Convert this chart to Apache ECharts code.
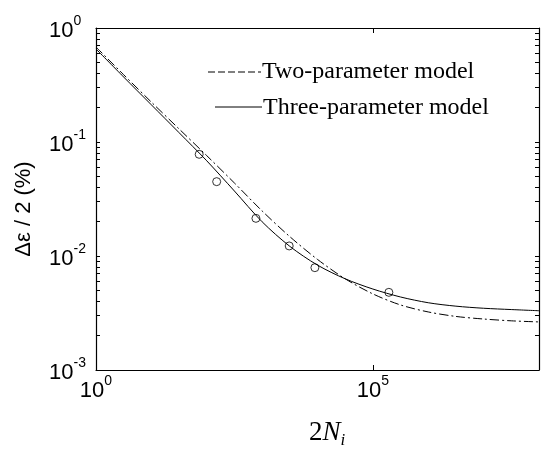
<!DOCTYPE html>
<html>
<head>
<meta charset="utf-8">
<script src="https://cdn.jsdelivr.net/npm/echarts@6/dist/echarts.min.js"></script>
<style>html,body{margin:0;padding:0;background:#fff}#c{width:543px;height:453px}</style>
</head>
<body>
<div id="c"></div>
<script>
// ---- data ----
const curveN = [1, 3.16, 10, 31.6, 100, 316, 1000, 3160, 1e4, 3.16e4, 1e5, 3.16e5, 1e6, 3.16e6, 1e7, 3.16e7, 1e8];
const twoParam = [0.681, 0.389, 0.2239, 0.1303, 0.0759, 0.0437, 0.02483, 0.01479, 0.00933, 0.00631, 0.00465, 0.00372, 0.00323, 0.00295, 0.0028, 0.0027, 0.00264];
const threeParam = [0.655, 0.3715, 0.2118, 0.1208, 0.0684, 0.03715, 0.01995, 0.01216, 0.00832, 0.00631, 0.00513, 0.00437, 0.00389, 0.00363, 0.00348, 0.00339, 0.00331];
const testN = [73, 151, 773, 3083, 8970, 194500];
const testAmp = [0.078, 0.0449, 0.0214, 0.01225, 0.0079, 0.0048];
const seriesNames = ['Two-parameter model', 'Three-parameter model'];
const xTickVals = [1, 1e5];
const yLabelVals = [1e-3, 1e-2, 1e-1, 1];
const yTickVals = [];
for (let e = -3; e < 0; e++) for (let m = 1; m <= 9; m++) yTickVals.push(m * Math.pow(10, e));
yTickVals.push(1);

const chart = echarts.init(document.getElementById('c'), null, {renderer: 'canvas'});
const supRich = {
  b: {fontSize: 22, fontFamily: 'Liberation Sans', color: '#000', lineHeight: 28, verticalAlign: 'bottom'},
  s: {fontSize: 14, fontFamily: 'Liberation Sans', color: '#000', lineHeight: 14, verticalAlign: 'top'}
};
function fmt(v) {
  const e = Math.round(Math.log10(v));
  return '{b|10}{s|' + e + '}';
}
const axisLineStyle = {color: '#000', width: 1.2};
const option = {
  animation: false,
  backgroundColor: '#fff',
  grid: {left: 96, right: 4, top: 28, bottom: 83},
  xAxis: [
    {type: 'log', logBase: 10, min: 1, max: 1e8, position: 'bottom',
     axisLine: {lineStyle: axisLineStyle},
     axisTick: {inside: true, length: 5, customValues: xTickVals, lineStyle: {color: '#000'}},
     axisLabel: {customValues: xTickVals, formatter: fmt, rich: supRich, margin: 4},
     splitLine: {show: false}, minorTick: {show: false}},
    {type: 'log', logBase: 10, min: 1, max: 1e8, position: 'top',
     axisLine: {lineStyle: axisLineStyle},
     axisTick: {inside: true, length: 5, customValues: xTickVals, lineStyle: {color: '#000'}},
     axisLabel: {show: false}, splitLine: {show: false}}
  ],
  yAxis: [
    {type: 'log', logBase: 10, min: 1e-3, max: 1, position: 'left',
     axisLine: {lineStyle: axisLineStyle},
     axisTick: {inside: true, length: 4, customValues: yTickVals, lineStyle: {color: '#000'}},
     axisLabel: {customValues: yLabelVals, formatter: fmt, rich: supRich, margin: 47, align: 'left'},
     splitLine: {show: false}},
    {type: 'log', logBase: 10, min: 1e-3, max: 1, position: 'right',
     axisLine: {lineStyle: axisLineStyle},
     axisTick: {inside: true, length: 4, customValues: yTickVals, lineStyle: {color: '#000'}},
     axisLabel: {show: false}, splitLine: {show: false}}
  ],
  series: [
    {name: seriesNames[0], type: 'line', xAxisIndex: 0, yAxisIndex: 0, smooth: 0.3, symbol: 'none',
     lineStyle: {color: '#000', width: 1, type: [9, 3, 2, 3]},
     data: curveN.map((n, i) => [n, twoParam[i]])},
    {name: seriesNames[1], type: 'line', xAxisIndex: 0, yAxisIndex: 0, smooth: 0.3, symbol: 'none',
     lineStyle: {color: '#000', width: 1},
     data: curveN.map((n, i) => [n, threeParam[i]])},
    {name: 'Test data', type: 'scatter', xAxisIndex: 0, yAxisIndex: 0, symbol: 'circle', symbolSize: 8, z: 5,
     itemStyle: {color: 'rgba(255,255,255,0)', borderColor: '#000', borderWidth: 1},
     data: testN.map((n, i) => [n, testAmp[i]])}
  ],
  graphic: [
    {type: 'line', shape: {x1: 208, y1: 72, x2: 261, y2: 72}, style: {stroke: '#000', lineWidth: 1.2, lineDash: [7, 3]}},
    {type: 'text', x: 262, y: 72, style: {text: seriesNames[0], font: '24px "Liberation Serif"', fill: '#000', verticalAlign: 'middle'}},
    {type: 'line', shape: {x1: 215, y1: 107, x2: 262, y2: 107}, style: {stroke: '#000', lineWidth: 1}},
    {type: 'text', x: 263, y: 108, style: {text: seriesNames[1], font: '24px "Liberation Serif"', fill: '#000', verticalAlign: 'middle'}},
    {type: 'text', x: 24, y: 209, rotation: Math.PI / 2,
     style: {text: 'Δε / 2 (%)', font: '22px "Liberation Sans"', fill: '#000', align: 'center', verticalAlign: 'middle'}},
    {type: 'text', x: 327, y: 434,
     style: {text: '{a|2}{b|N}{c|i}', align: 'center', verticalAlign: 'middle',
       rich: {
         a: {fontFamily: 'Liberation Serif', fontSize: 27, fill: '#000', lineHeight: 30, verticalAlign: 'top'},
         b: {fontFamily: 'Liberation Serif', fontStyle: 'italic', fontSize: 27, fill: '#000', lineHeight: 30, verticalAlign: 'top'},
         c: {fontFamily: 'Liberation Serif', fontStyle: 'italic', fontSize: 17, fill: '#000', lineHeight: 16, verticalAlign: 'bottom'}
       }}}
  ]
};
chart.setOption(option);
</script>
</body>
</html>
